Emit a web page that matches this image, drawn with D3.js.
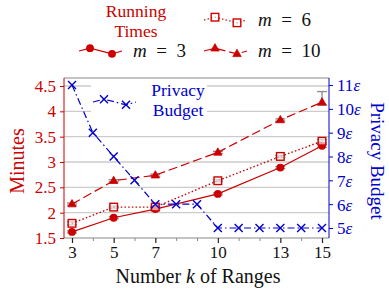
<!DOCTYPE html>
<html><head><meta charset="utf-8">
<script src="https://cdn.jsdelivr.net/npm/d3@7"></script>
<style>body{margin:0;background:#fff}svg{display:block}text{font-family:"Liberation Serif","Times New Roman",serif}</style>
</head><body><svg id="c" width="389" height="292"></svg>
<script>
const kRun = [3,5,7,10,13,15];
const m3 = [1.62,1.90,2.07,2.37,2.89,3.32];
const m6 = [1.79,2.11,2.11,2.63,3.11,3.41];
const m10 = [2.17,2.63,2.74,3.19,3.83,4.18];
const errM3 = [0.02,0.02,0.02,0.02,0.02,0.03];
const errM6 = [0.03,0.02,0.02,0.02,0.02,0.03];
const errM10Lo = [0.02,0.02,0.02,0.02,0.02,0.06];
const errM10Hi = [0.02,0.02,0.02,0.02,0.02,0.21];
const kBudget = [3,4,5,6,7,8,9,10,11,12,13,14,15];
const budget = [11,9,8,7,6,6,6,5,5,5,5,5,5];
const xTicks = [3,5,7,10,13,15];
const xMinor = [4,6,8,9,11,12,14];
const yLeftTicks = [1.5,2,2.5,3,3.5,4,4.5];
const yRightTicks = [5,6,7,8,9,10,11];

const RED="#cc0000", BLUE="#0000cc", GRID="#cccccc", GREY="#8a8a8a";
const svg=d3.select("#c");
const L=64,R=329,T=78,B=238;
const x=d3.scaleLinear().domain([3,15]).range([72,322]);
const yL=d3.scaleLinear().domain([1.5,4.5]).range([B,86]);
const yR=d3.scaleLinear().domain([5,11]).range([228,85]);

// grid
svg.append("g").selectAll("line").data(yLeftTicks.slice(1)).join("line")
 .attr("x1",L).attr("x2",R).attr("y1",d=>yL(d)).attr("y2",d=>yL(d))
 .attr("stroke",GRID).attr("stroke-width",1.3);

// frame top/bottom
svg.append("line").attr("x1",L).attr("x2",R).attr("y1",T).attr("y2",T).attr("stroke",GREY).attr("stroke-width",1);
svg.append("line").attr("x1",L).attr("x2",R).attr("y1",B).attr("y2",B).attr("stroke",GREY).attr("stroke-width",1);

// x axis
const xa=svg.append("g").attr("transform",`translate(0,${B})`)
 .call(d3.axisBottom(x).tickValues(xTicks).tickFormat(d3.format("d")).tickSize(5).tickPadding(3));
xa.select(".domain").remove();
xa.selectAll(".tick line").attr("stroke","#222").attr("stroke-width",1.2);
xa.selectAll(".tick text").attr("font-size",17).attr("fill","#111").attr("font-family","Liberation Serif, serif");
svg.append("g").attr("transform",`translate(0,${B})`)
 .call(d3.axisBottom(x).tickValues(xMinor).tickFormat("").tickSize(3))
 .call(g=>{g.select(".domain").remove();g.selectAll(".tick line").attr("stroke",GREY);});

// left axis
const la=svg.append("g").attr("transform",`translate(${L},0)`)
 .call(d3.axisLeft(yL).tickValues(yLeftTicks).tickFormat(d=>String(d)).tickSize(4).tickPadding(4));
la.select(".domain").attr("stroke",RED).attr("d",`M0,${T}V${B}`);
la.selectAll(".tick line").attr("stroke",RED);
la.selectAll(".tick text").attr("font-size",17).attr("fill",RED).attr("font-family","Liberation Serif, serif");

// right axis
const ra=svg.append("g").attr("transform",`translate(${R},0)`)
 .call(d3.axisRight(yR).tickValues(yRightTicks).tickFormat("").tickSize(4));
ra.select(".domain").attr("stroke",BLUE).attr("d",`M0,${T}V${B}`);
ra.selectAll(".tick line").attr("stroke",BLUE);
ra.selectAll(".tick").each(function(d){
  const t=d3.select(this).append("text").attr("x",8).attr("dy","0.35em").attr("fill",BLUE).attr("font-size",17);
  t.append("tspan").text(d);
  t.append("tspan").attr("font-style","italic").text("ε");
});

// legend box for privacy budget (inside plot)
svg.append("rect").attr("x",91).attr("y",80).attr("width",116).attr("height",40).attr("fill","#fff");

// error bars
function errBars(vals,lo,hi){
  const g=svg.append("g").attr("stroke",GREY).attr("stroke-width",1.3).attr("fill","none");
  kRun.forEach((k,i)=>{
    const cx=x(k),y1=yL(vals[i]-lo[i]),y2=yL(vals[i]+hi[i]);
    g.append("line").attr("x1",cx).attr("x2",cx).attr("y1",y1).attr("y2",y2);
    g.append("line").attr("x1",cx-5).attr("x2",cx+5).attr("y1",y1).attr("y2",y1);
    g.append("line").attr("x1",cx-5).attr("x2",cx+5).attr("y1",y2).attr("y2",y2);
  });
}
errBars(m3,errM3,errM3);
errBars(m6,errM6,errM6);
errBars(m10,errM10Lo,errM10Hi);

const lineL=d3.line().x((d,i)=>x(kRun[i])).y(d=>yL(d));
svg.append("path").datum(m3).attr("d",lineL).attr("fill","none").attr("stroke",RED).attr("stroke-width",1.2);
svg.append("path").datum(m6).attr("d",lineL).attr("fill","none").attr("stroke",RED).attr("stroke-width",1.4).attr("stroke-dasharray","1.5,2.2");
svg.append("path").datum(m10).attr("d",lineL).attr("fill","none").attr("stroke",RED).attr("stroke-width",1.2).attr("stroke-dasharray","9,4");
const lineR=d3.line().x((d,i)=>x(kBudget[i])).y(d=>yR(d));
svg.append("path").datum(budget).attr("d",lineR).attr("fill","none").attr("stroke",BLUE).attr("stroke-width",1.2).attr("stroke-dasharray","7,3,1.5,3");

// markers
function circle(g,cx,cy){g.append("circle").attr("cx",cx).attr("cy",cy).attr("r",3.9).attr("fill",RED);}
function square(g,cx,cy){g.append("rect").attr("x",cx-3.8).attr("y",cy-3.8).attr("width",7.6).attr("height",7.6).attr("fill","#fff").attr("fill-opacity",0.6).attr("stroke",RED).attr("stroke-width",1.4);}
function tri(g,cx,cy){g.append("path").attr("d",`M${cx},${cy-4.5}L${cx+4.2},${cy+2.8}L${cx-4.2},${cy+2.8}Z`).attr("fill",RED).attr("stroke",RED).attr("stroke-width",0.8);}
function cross(g,cx,cy){g.append("path").attr("d",`M${cx-4},${cy-4}L${cx+4},${cy+4}M${cx-4},${cy+4}L${cx+4},${cy-4}`).attr("stroke",BLUE).attr("stroke-width",1.4);}
const mk=svg.append("g");
m3.forEach((v,i)=>circle(mk,x(kRun[i]),yL(v)));
m6.forEach((v,i)=>square(mk,x(kRun[i]),yL(v)));
m10.forEach((v,i)=>tri(mk,x(kRun[i]),yL(v)));
budget.forEach((v,i)=>cross(mk,x(kBudget[i]),yR(v)));

// legends
function legSample(x0,yc,color,dash,marker){
  const pts=[[x0,yc],[x0+11,yc-2.8],[x0+33,yc+2.8],[x0+43,yc]];
  svg.append("path").attr("d",d3.line()(pts)).attr("fill","none").attr("stroke",color).attr("stroke-width",1.2).attr("stroke-dasharray",dash);
  marker(svg,pts[1][0],pts[1][1]); marker(svg,pts[2][0],pts[2][1]);
}
function mLabel(xp,yp,num){
  const t=svg.append("text").attr("x",xp).attr("y",yp).attr("font-size",19).attr("fill","#111");
  t.append("tspan").attr("font-style","italic").text("m");
  t.append("tspan").text("\u2002=\u2002"+num);
}
function line1(cx,y,color,s){
  svg.append("text").attr("x",cx).attr("y",y).attr("text-anchor","middle").attr("font-size",17.5).attr("fill",color).text(s);
}
line1(136,16.5,RED,"Running"); line1(136,36.5,RED,"Times");
legSample(79,51,RED,null,circle); mLabel(133,57,3);
legSample(204,20,RED,"1.5,2.2",square); mLabel(258,26,6);
legSample(204,51,RED,"9,4",tri); mLabel(258,57,10);
legSample(93,102,BLUE,"7,3,1.5,3",cross);
line1(178,95.5,BLUE,"Privacy"); line1(178,116,BLUE,"Budget");

// axis titles
svg.append("text").attr("transform","translate(23.5,161) rotate(-90)").attr("text-anchor","middle").attr("font-size",20).attr("fill",RED).text("Minutes");
svg.append("text").attr("transform","translate(370.5,161) rotate(90)").attr("text-anchor","middle").attr("font-size",19).attr("fill",BLUE).text("Privacy Budget");
const xt=svg.append("text").attr("x",198).attr("y",283).attr("text-anchor","middle").attr("font-size",20).attr("fill","#111");
xt.append("tspan").text("Number ");
xt.append("tspan").attr("font-style","italic").text("k");
xt.append("tspan").text(" of Ranges");
</script></body></html>
